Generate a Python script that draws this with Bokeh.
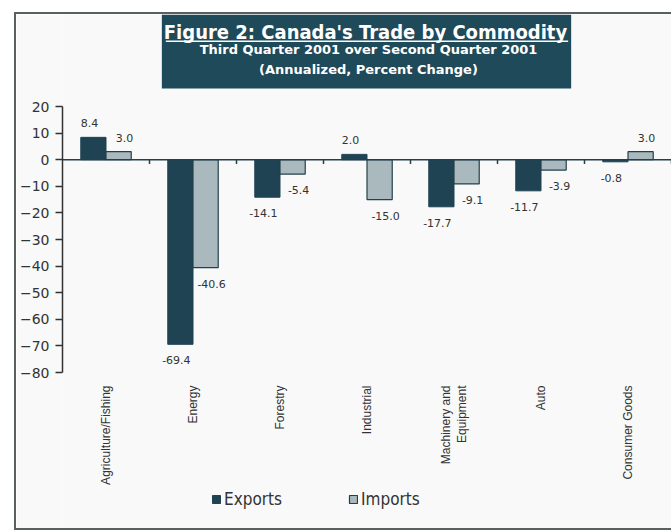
import numpy as np
from bokeh.plotting import figure
from bokeh.models import (ColumnDataSource, FixedTicker, Span, Legend, LegendItem)
from bokeh.core.properties import value
from bokeh.embed import file_html
from bokeh.resources import INLINE

categories = ["Agriculture/Fishing", "Energy", "Forestry", "Industrial",
              "Machinery and\nEquipment", "Auto", "Consumer Goods"]
exports = [8.4, -69.4, -14.1, 2.0, -17.7, -11.7, -0.8]
imports = [3.0, -40.6, -5.4, -15.0, -9.1, -3.9, 3.0]
y_ticks = [20, 10, 0, -10, -20, -30, -40, -50, -60, -70, -80]

title = "Figure 2: Canada's Trade by Commodity"
subtitle1 = "Third Quarter 2001 over Second Quarter 2001"
subtitle2 = "(Annualized, Percent Change)"

DARK = "#1f4352"
LIGHT = "#a9b9bd"
EDGE = "#24404c"
BOX = "#1f4a5a"
BG = "#f8f9f8"
TXT = "#333333"
FRAME = "#5a5f60"

n = len(categories)
centers = np.arange(n) + 0.5
bw = 0.29

# ---- layout (page pixels) ----
OFF_X, OFF_Y = 16, 14          # canvas origin on the page
BOTTOM = 528                   # canvas bottom on the page
CW, CH = 671 - OFF_X, BOTTOM - OFF_Y
PLOT_L, PLOT_R = 58, 671       # frame left/right on the page
Y_TOP_PX, Y_BOT_PX = 106, 372  # page y of axis top/bottom values
y_hi, y_lo = max(y_ticks), min(y_ticks)
ppu = (Y_BOT_PX - Y_TOP_PX) / (y_hi - y_lo)
ppx = (PLOT_R - PLOT_L) / n

def X(px):
    return (px - PLOT_L) / ppx

def Y(py):
    return y_hi + (Y_TOP_PX - py) / ppu

p = figure(width=CW, height=CH, x_range=(0, n), y_range=(Y(BOTTOM), Y(OFF_Y)),
           output_backend="svg", toolbar_location=None,
           min_border_left=PLOT_L - OFF_X, min_border_right=0, min_border_top=0,
           min_border_bottom=0)
# offset on the page and thin frame drawn outside the canvas (left, top, bottom)
p.styles = {"margin-left": "%dpx" % OFF_X, "margin-top": "%dpx" % OFF_Y,
            "box-shadow": ("-2px 0 0 0 %s, 0 -2px 0 0 %s, -2px -2px 0 0 %s, "
                           "0 2px 0 0 %s, -2px 2px 0 0 %s") % ((FRAME,) * 5)}
p.background_fill_color = BG
p.border_fill_color = BG
p.outline_line_color = None
p.xgrid.grid_line_color = None
p.ygrid.grid_line_color = None
p.xaxis.visible = False

def fmt(v):
    return "%.1f" % v

ex_src = ColumnDataSource(dict(x=centers - bw / 2, top=exports,
                               lab=[fmt(v) for v in exports],
                               yo=[-14 if v >= 0 else 16 for v in exports]))
im_src = ColumnDataSource(dict(x=centers + bw / 2, top=imports,
                               lab=[fmt(v) for v in imports],
                               yo=[-14 if v >= 0 else 16 for v in imports]))

r_ex = p.vbar(x="x", top="top", bottom=0, width=bw, source=ex_src,
              fill_color=DARK, line_color=DARK, line_width=1)
r_im = p.vbar(x="x", top="top", bottom=0, width=bw, source=im_src,
              fill_color=LIGHT, line_color=EDGE, line_width=1.2)

# zero line and category separators
p.add_layout(Span(location=0, dimension="width", line_color=EDGE, line_width=1.5))
bounds = np.arange(1, n + 1)
p.segment(x0=bounds, y0=np.zeros(n), x1=bounds, y1=np.full(n, -1.6),
          line_color=EDGE, line_width=1.5)

# data labels
for src, xo in ((ex_src, -4), (im_src, 6)):
    p.text(x="x", y="top", text="lab", source=src, x_offset=xo, y_offset="yo",
           text_align="center", text_baseline="middle",
           text_font=value("DejaVu Sans"), text_font_size="11px", text_color=TXT)

# y axis
yax = p.yaxis[0]
yax.ticker = FixedTicker(ticks=y_ticks)
yax.bounds = (y_lo, y_hi)
yax.axis_line_color = TXT
yax.axis_line_width = 1.5
yax.major_tick_line_color = TXT
yax.major_tick_line_width = 1.5
yax.major_tick_in = 0
yax.major_tick_out = 7
yax.minor_tick_line_color = None
yax.major_label_text_font = "DejaVu Sans"
yax.major_label_text_font_size = "14px"
yax.major_label_text_color = TXT
yax.major_label_standoff = 6

# category labels under the plot area (rotated, reading upwards)
p.text(x=centers, y=np.full(n, y_lo), text=categories, angle=np.pi / 2,
       y_offset=13, text_align="right", text_baseline="middle",
       text_font=value("Liberation Sans"), text_font_size="12px",
       text_color=TXT, text_line_height=1.15)

# title box
p.quad(left=[X(158)], right=[X(570)], bottom=[Y(88)], top=[Y(OFF_Y)],
       fill_color=BOX, line_color=None)
p.text(x=[X(363)], y=[Y(31)], text=[title], text_align="center",
       text_baseline="middle", text_font=value("DejaVu Sans Condensed"),
       text_font_style="bold", text_font_size="20px", text_color="white")
p.quad(left=[X(162)], right=[X(567)], bottom=[Y(41.5)], top=[Y(40)],
       fill_color="white", line_color=None)
p.text(x=[X(366), X(366)], y=[Y(48.5), Y(68.5)], text=[subtitle1, subtitle2],
       text_align="center", text_baseline="middle",
       text_font=value("DejaVu Sans"), text_font_style="bold",
       text_font_size="13px", text_color="white")

legend = Legend(items=[LegendItem(label="Exports", renderers=[r_ex]),
                       LegendItem(label="Imports", renderers=[r_im])],
                location=(207 - PLOT_L, BOTTOM - 509), orientation="horizontal",
                glyph_width=10, glyph_height=10, label_standoff=3, spacing=66,
                label_text_font="DejaVu Sans Condensed", label_text_font_size="17px",
                label_text_color=TXT, label_height=20,
                background_fill_alpha=0, border_line_color=None, padding=0, margin=0)
p.add_layout(legend)

open("out.html", "w").write(file_html(p, INLINE))
